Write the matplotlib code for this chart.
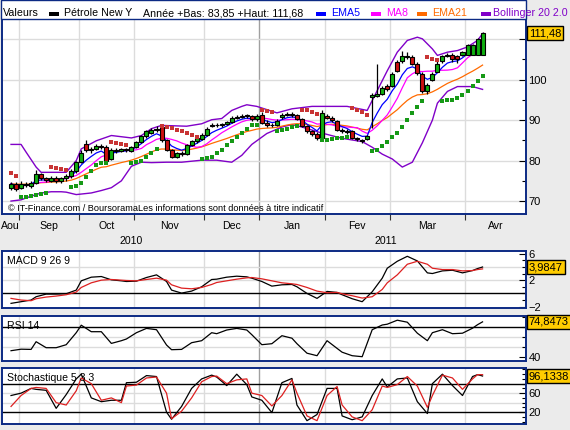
import matplotlib.pyplot as plt
import matplotlib.patches as patches
import matplotlib.transforms as mtransforms
from matplotlib.ticker import MultipleLocator
import numpy as np
import pandas as pd

plt.rcParams['font.family'] = ['Liberation Sans', 'DejaVu Sans']

# --- daily candles, Petrole New York, late Aug 2010 -> early Apr 2011 ---
opens = [73.2, 74.3, 73.2, 74.3, 73.8, 74.5, 76.8, 75.6, 75.0, 75.8,
         75.0, 75.6, 76.2, 77.4, 79.6, 84.0, 82.6, 82.9, 83.6, 83.4,
         80.5, 82.6, 82.4, 82.8, 82.4, 83.3, 84.6, 86.0, 86.8, 87.5,
         88.2, 85.0, 82.6, 81.0, 81.9, 81.7, 83.8, 84.8, 85.4, 86.4,
         88.6, 88.9, 88.7, 89.0, 89.6, 90.6, 90.9, 91.1, 91.0, 90.2,
         91.3, 89.4, 88.9, 88.8, 90.8, 91.3, 91.5, 91.2, 90.2, 88.5,
         87.2, 86.6, 85.5, 91.0, 90.6, 89.8, 87.6, 87.4, 87.3, 85.6,
         85.1, 85.3, 95.8, 96.0, 96.5, 98.5, 98.5, 104.4, 104.5, 105.5,
         105.5, 104.0, 101.5, 97.3, 100.0, 102.0, 104.5, 105.9, 106.2, 105.8,
         106.0, 106.1, 106.1, 106.1, 106.1]
highs = [74.8, 74.6, 74.9, 74.8, 75.0, 77.6, 77.0, 76.0, 76.1, 76.2,
         76.0, 76.6, 77.8, 80.0, 82.6, 85.0, 83.3, 84.0, 84.2, 83.8,
         83.0, 83.0, 83.2, 83.2, 83.7, 84.9, 86.4, 87.6, 88.0, 88.6,
         88.6, 85.3, 82.9, 82.2, 82.4, 84.2, 85.2, 85.9, 86.8, 88.3,
         89.3, 89.2, 89.4, 89.9, 91.0, 91.2, 91.4, 91.5, 91.3, 91.4,
         91.9, 90.0, 89.2, 90.2, 91.8, 92.0, 91.9, 91.5, 90.5, 88.8,
         87.6, 87.0, 92.4, 91.6, 91.0, 90.0, 88.0, 87.8, 87.6, 85.9,
         85.4, 86.4, 96.6, 103.8, 98.4, 99.0, 102.0, 104.8, 107.0, 106.8,
         106.0, 104.3, 102.0, 99.2, 102.0, 104.5, 106.2, 106.6, 106.5, 106.0,
         107.2, 108.8, 108.9, 110.4, 111.8]
lows = [72.8, 72.5, 72.9, 73.4, 73.2, 74.2, 75.2, 74.6, 74.6, 74.5,
        74.4, 75.0, 75.8, 77.0, 79.3, 82.2, 82.0, 82.5, 82.8, 79.4,
        80.2, 82.0, 82.1, 82.2, 82.2, 83.0, 84.3, 85.7, 86.5, 87.0,
        84.7, 82.3, 80.6, 80.7, 81.2, 81.4, 83.5, 84.4, 85.0, 86.2,
        88.2, 88.3, 88.4, 88.7, 89.3, 90.2, 90.6, 90.5, 89.9, 89.8,
        89.0, 88.2, 88.2, 88.5, 90.4, 91.0, 90.8, 90.0, 88.2, 86.8,
        86.2, 85.2, 85.2, 90.2, 89.6, 87.3, 86.9, 86.6, 85.3, 84.9,
        84.3, 85.0, 88.0, 95.6, 96.2, 97.3, 98.2, 101.8, 104.2, 105.0,
        103.6, 101.2, 96.6, 96.4, 99.6, 101.8, 104.2, 105.6, 104.4, 104.2,
        105.8, 106.0, 106.0, 106.0, 106.0]
closes = [74.3, 72.9, 74.2, 74.0, 74.5, 76.8, 75.6, 75.2, 75.8, 75.0,
          75.6, 76.3, 77.4, 79.6, 82.0, 82.5, 82.9, 83.6, 83.3, 79.8,
          82.6, 82.4, 82.8, 82.6, 83.3, 84.6, 86.0, 87.2, 87.6, 87.9,
          85.0, 82.6, 81.0, 81.8, 81.7, 83.8, 84.8, 85.6, 86.4, 87.9,
          88.8, 88.7, 89.0, 89.6, 90.6, 90.9, 91.1, 91.0, 90.2, 91.0,
          89.4, 88.9, 88.7, 89.8, 91.3, 91.5, 91.2, 90.3, 88.5, 87.2,
          86.6, 85.6, 91.8, 90.6, 90.0, 87.6, 87.3, 87.0, 85.6, 85.3,
          84.9, 86.1, 96.2, 96.4, 98.0, 97.8, 101.5, 102.2, 105.8, 105.9,
          104.0, 101.6, 97.2, 98.6, 101.5, 104.0, 105.8, 106.2, 105.2, 105.0,
          106.9, 108.5, 108.6, 110.1, 111.48]

# parabolic SAR dots
sar = [77.0, 76.2, 71.0, 71.1, 71.3, 71.5, 71.8, 72.0, 78.4, 78.1,
       77.9, 77.7, 73.5, 73.8, 74.4, 76.0, 77.4, 78.8, 79.5, 79.5,
       84.5, 84.3, 84.1, 83.9, 79.4, 79.7, 80.0, 80.9, 81.8, 82.9,
       88.5, 88.2, 88.0, 87.6, 87.2, 86.8, 86.4, 85.8, 80.5, 80.6,
       80.8, 81.8, 82.6, 83.8, 84.8, 85.8, 86.8, 87.9, 88.7, 88.9,
       92.6, 92.3, 92.0, 87.4, 87.6, 87.9, 88.2, 88.6, 92.6, 92.4,
       92.0, 91.6, 85.1, 85.2, 85.4, 85.5, 85.7, 85.9, 93.1, 92.6,
       92.0, 91.2, 82.4, 82.7, 83.5, 84.6, 85.8, 86.8, 88.3, 90.1,
       91.8, 93.3, 94.7, 105.5, 105.1, 104.8, 94.7, 94.9, 95.0, 95.5,
       96.2, 97.2, 98.5, 99.6, 100.8]

# Bollinger 20 2.0 bands
bb_up_bar = [0, 2, 3, 5, 6, 11, 13, 14, 17, 20, 24, 26, 28, 30, 35, 38, 40, 42, 44, 46,
             47, 49, 51, 53, 56, 60, 67, 71, 73, 75, 77, 79, 81, 82, 84, 85, 87, 89, 91, 93, 94]
bb_up = [84.0, 84.0, 82.1, 78.4, 77.1, 77.1, 80.0, 82.9, 84.9, 86.2, 85.6, 86.2, 87.9, 88.7,
         88.5, 89.1, 90.1, 90.4, 92.4, 93.4, 93.8, 93.4, 92.6, 91.8, 92.8, 93.4, 93.4, 92.4,
         97.3, 102.2, 106.8, 109.7, 110.5, 110.1, 107.6, 106.0, 106.8, 107.2, 108.1, 109.7, 111.4]
bb_lo_bar = [0, 2, 4, 6, 8, 10, 11, 13, 16, 18, 20, 22, 24, 26, 28, 31, 34, 38, 41, 44,
             46, 48, 51, 54, 56, 58, 62, 66, 70, 72, 74, 76, 78, 80, 82, 84, 85, 87, 89, 92, 94]
bb_lo = [70.0, 70.3, 71.2, 72.0, 72.3, 72.3, 72.2, 71.6, 72.0, 72.6, 73.3, 75.0, 78.6, 79.6,
         79.5, 79.6, 79.6, 80.1, 80.1, 79.6, 81.3, 84.0, 86.7, 88.3, 88.9, 88.3, 86.8, 85.5,
         84.7, 83.3, 81.6, 80.4, 78.4, 79.6, 84.4, 90.0, 94.2, 97.1, 98.3, 98.3, 97.6]

# oscillators, read every ~2 sessions
osc_bar = [0, 2, 4, 5, 7, 9, 11, 13, 14, 16, 18, 20, 22, 23, 25, 27, 29, 31, 32, 34,
           36, 38, 40, 41, 43, 45, 47, 48, 50, 52, 54, 56, 57, 59, 61, 63, 65, 66, 68, 70,
           72, 74, 75, 77, 79, 81, 83, 84, 86, 88, 90, 92, 93, 94]
macd_line = [-1.5, -1.25, -1.0, -0.5, -0.1, -0.1, -0.05, 0.5, 1.9, 2.45,
             2.55, 2.05, 1.9, 1.8, 1.85, 2.4, 2.8, 1.8, 0.5, 0.05,
             0.35, 1.0, 2.1, 2.15, 2.45, 2.6, 2.5, 2.3, 1.8, 1.1,
             1.3, 1.35, 1.0, 0.0, -0.75, 0.3, 0.15, -0.2, -0.8, -1.25,
             0.25, 2.3, 3.8, 4.85, 5.6, 4.9, 3.1, 3.0, 3.4, 3.5,
             3.1, 3.45, 3.75, 3.9847]
macd_signal = [-0.75, -1.0, -1.1, -0.8, -0.55, -0.4, -0.2, 0.2, 0.9, 1.6,
               2.0, 2.1, 2.0, 1.95, 1.9, 2.1, 2.3, 2.0, 1.3, 0.8,
               0.7, 0.9, 1.35, 1.65, 1.9, 2.15, 2.35, 2.4, 2.2, 1.9,
               1.6, 1.45, 1.35, 0.9, 0.35, 0.1, 0.15, -0.05, -0.35, -0.7,
               -0.5, 0.6, 1.6, 2.8, 4.4, 4.85, 4.4, 3.8, 3.6, 3.6,
               3.4, 3.45, 3.6, 3.7]
rsi14 = [46, 47.5, 47.3, 55, 49, 49, 52, 64, 71.5, 65,
         65, 53.3, 56, 57.7, 64, 68.3, 67, 51.7, 47, 47.3,
         54, 56, 64, 63, 66.7, 68.3, 66.7, 62, 52, 53,
         61, 58.5, 53, 43.5, 41, 56, 48.3, 44.5, 41, 40,
         67, 71.7, 72.5, 76.5, 74.5, 63.5, 56, 64, 67, 63,
         63.5, 68.5, 72, 74.8473]
stoch_k = [55, 60, 70, 68, 66, 28, 57, 90, 100, 50,
           42, 45, 45, 82, 83, 97, 95, 20, 5, 32,
           70, 90, 98, 94, 76, 100, 78, 52, 45, 19,
           82, 91, 35, 2, 15, 70, 70, 12, 4, 10,
           55, 90, 73, 90, 92, 42, 17, 80, 100, 76,
           55, 95, 99, 96.1338]
stoch_d = [32, 55, 70, 72, 70, 40, 35, 65, 92, 80,
           45, 50, 40, 75, 77, 92, 94, 60, 6, 22,
           50, 84, 95, 96, 80, 88, 90, 60, 55, 33,
           55, 88, 60, 12, 2, 55, 74, 35, 10, 2,
           25, 75, 72, 78, 95, 75, 30, 55, 98, 92,
           68, 90, 99, 99]

month_names = ['Aou', 'Sep', 'Oct', 'Nov', 'Dec', 'Jan', 'Fev', 'Mar', 'Avr']
month_first_bar = [2, 14, 25, 39, 50, 63, 76, 91]  # first session of Sep .. Avr
year_names = ['2010', '2011']

W, H = 570, 430
NAVY = '#0c2a84'
GRID = '#dcdcdc'
YEARLINE = '#a0a0a0'
BOX = '#ffcc00'
XMIN, XMAX = -1.8, 102.6


def panel(top, bottom):
    # rectangle given in pixels from the top-left corner
    return fig.add_axes([2 / W, 1 - bottom / H, 523.7 / W, (bottom - top) / H])


def style(ax):
    ax.set_xlim(XMIN, XMAX)
    ax.set_facecolor('white')
    for s in ax.spines.values():
        s.set_color(NAVY)
        s.set_linewidth(1.4)
    ax.yaxis.tick_right()
    ax.tick_params(axis='y', which='both', direction='in', right=True, left=False,
                   labelsize=8, pad=2, width=0.8, color='black')
    ax.tick_params(axis='y', which='major', length=5)
    ax.tick_params(axis='y', which='minor', length=3)
    ax.set_xticks([])
    for k, b in enumerate(month_first_bar):
        ax.axvline(b - 0.5, color=YEARLINE if month_names[k + 1] == 'Jan' else GRID,
                   lw=1, zorder=0)


def hgrid(ax, levels):
    for v in levels:
        ax.axhline(v, color=GRID, lw=1, zorder=0)


def value_box(ax, value, txt):
    tr = mtransforms.blended_transform_factory(ax.transAxes, ax.transData)
    ax.text(1.006, value, txt, transform=tr, va='center', ha='left', fontsize=8,
            clip_on=False, zorder=10,
            bbox=dict(boxstyle='square,pad=0.18', fc=BOX, ec='black', lw=1))


fig = plt.figure(figsize=(W / 100, H / 100), dpi=100, facecolor='#ebebeb')

# header band
fig.add_artist(patches.Rectangle((1 / W, 1 - 19 / H), 524.7 / W, 19 / H,
                                 transform=fig.transFigure, fc='white', ec=NAVY, lw=1))

# ---------------- main price panel ----------------
ax = panel(19, 214)
style(ax)
ax.spines['top'].set_color('black')
ax.set_ylim(66.8, 115.0)
ax.set_yticks([70, 80, 90, 100, 110])
ax.set_yticklabels(['70', '80', '90', '100', ''])  # 110 sits under the last-value box
ax.yaxis.set_minor_locator(MultipleLocator(5))
hgrid(ax, [70, 80, 90, 100, 110])

bars = np.arange(len(closes))
o = np.array(opens)
c = np.array(closes)
up = c >= o
s_close = pd.Series(closes)
ema5 = s_close.ewm(span=5, adjust=False).mean()
ma8 = s_close.rolling(8, min_periods=1).mean()
ema21 = s_close.ewm(span=21, adjust=False).mean()

ax.plot(bb_up_bar, bb_up, color='#8000c8', lw=1.0, zorder=2)
ax.plot(bb_lo_bar, bb_lo, color='#8000c8', lw=1.0, zorder=2)
ax.plot(bars, ema21, color='#ff6a00', lw=0.9, zorder=2)
ax.plot(bars, ma8, color='#ff00ff', lw=0.9, zorder=2)
ax.plot(bars, ema5, color='#0000ff', lw=0.9, zorder=2)

ax.vlines(bars, lows, highs, color='black', lw=0.9, zorder=3)
ax.bar(bars, np.maximum(np.abs(c - o), 0.18), bottom=np.minimum(o, c), width=0.8,
       color=np.where(up, '#10b010', '#cc1010'), edgecolor='black', linewidth=0.8, zorder=4)

sar_a = np.array(sar)
below = sar_a < c
ax.plot(bars[below], sar_a[below], 's', color='#169916', ms=2.4, mew=0, zorder=5)
ax.plot(bars[~below], sar_a[~below], 's', color='#c83434', ms=2.4, mew=0, zorder=5)

ax.text(6 / 523.7, 0.026, '\u00a9 IT-Finance.com / BoursoramaLes informations sont données à titre indicatif',
        transform=ax.transAxes, fontsize=6.6, va='center', ha='left')
value_box(ax, closes[-1], '111,48')

# month ticks and labels under the main panel
bounds = [b - 0.5 for b in month_first_bar]
ax.set_xticks(bounds)
ax.tick_params(axis='x', bottom=True, labelbottom=False, direction='out', length=4,
               width=0.8, color='#333333')
edges = [XMIN] + bounds + [XMAX]
xtr = ax.get_xaxis_transform()
for k, name in enumerate(month_names):
    ax.text((edges[k] + edges[k + 1]) / 2, -0.062, name, transform=xtr, ha='center',
            va='center', fontsize=7.6, clip_on=False)
jan = bounds[month_names.index('Jan') - 1]
ax.text((XMIN + jan) / 2, -0.138, year_names[0], transform=xtr, ha='center', va='center',
        fontsize=7.6, clip_on=False)
ax.text((jan + XMAX) / 2 - 1.3, -0.138, year_names[1], transform=xtr, ha='center',
        va='center', fontsize=7.6, clip_on=False)

# ---------------- MACD ----------------
ax = panel(251, 308)
style(ax)
ax.set_ylim(-2.2, 6.4)
ax.set_yticks([-2, 2, 6])
ax.yaxis.set_minor_locator(MultipleLocator(1))
hgrid(ax, [2, 4])
ax.axhline(0, color='black', lw=1, zorder=1)
ax.plot(osc_bar, macd_line, color='black', lw=0.9, zorder=3)
ax.plot(osc_bar, macd_signal, color='#dd2020', lw=0.9, zorder=3)
ax.text(5 / 523.7, 0.825, 'MACD 9 26 9', transform=ax.transAxes, fontsize=7.6, va='center')
value_box(ax, macd_line[-1], '3,9847')

# ---------------- RSI ----------------
ax = panel(316, 361)
style(ax)
ax.set_ylim(35.7, 80.7)
ax.set_yticks([40])
ax.set_yticks([50, 60, 70, 80], minor=True)
hgrid(ax, [50, 60])
ax.axhline(70, color='black', lw=1, zorder=1)
ax.plot(osc_bar, rsi14, color='black', lw=0.9, zorder=3)
ax.text(5 / 523.7, 0.784, 'RSI 14', transform=ax.transAxes, fontsize=7.6, va='center')
value_box(ax, rsi14[-1], '74,8473')

# ---------------- Stochastic ----------------
ax = panel(368, 424)
style(ax)
ax.set_ylim(-5, 113)
ax.set_yticks([20, 60])
ax.yaxis.set_minor_locator(MultipleLocator(10))
hgrid(ax, [40, 60])
ax.axhline(80, color='black', lw=1, zorder=1)
ax.axhline(20, color='black', lw=1, zorder=1)
ax.plot(osc_bar, stoch_k, color='black', lw=0.9, zorder=3)
ax.plot(osc_bar, stoch_d, color='#dd2020', lw=0.9, zorder=3)
ax.text(5 / 523.7, 0.816, 'Stochastique 5 3 3', transform=ax.transAxes, fontsize=7.6,
        va='center')
value_box(ax, stoch_k[-1], '96,1338')

# ---------------- header legend ----------------
ty = 1 - 13.5 / H
fs = 7.7


def swatch(x0, color):
    fig.add_artist(patches.Rectangle((x0 / W, 1 - 15.5 / H), 9.5 / W, 4 / H,
                                     transform=fig.transFigure, fc=color, ec='none'))


fig.text(3 / W, ty, 'Valeurs', va='center', fontsize=fs)
swatch(49, 'black')
fig.text(64 / W, ty, 'Pétrole New Y', va='center', fontsize=fs)
fig.text(143 / W, ty, 'Année +Bas: 83,85 +Haut: 111,68', va='center', fontsize=fs)
swatch(316, '#0000ff')
fig.text(331 / W, ty, 'EMA5', va='center', fontsize=fs, color='#0000ff')
swatch(371, '#ff00ff')
fig.text(386 / W, ty, 'MA8', va='center', fontsize=fs, color='#ff00ff')
swatch(417, '#ff6a00')
fig.text(432.5 / W, ty, 'EMA21', va='center', fontsize=fs, color='#ff6a00')
swatch(481, '#8000c8')
fig.text(493 / W, ty, 'Bollinger 20 2.0', va='center', fontsize=fs, color='#8000c8')

fig.savefig('out.png', dpi=100, facecolor=fig.get_facecolor())
